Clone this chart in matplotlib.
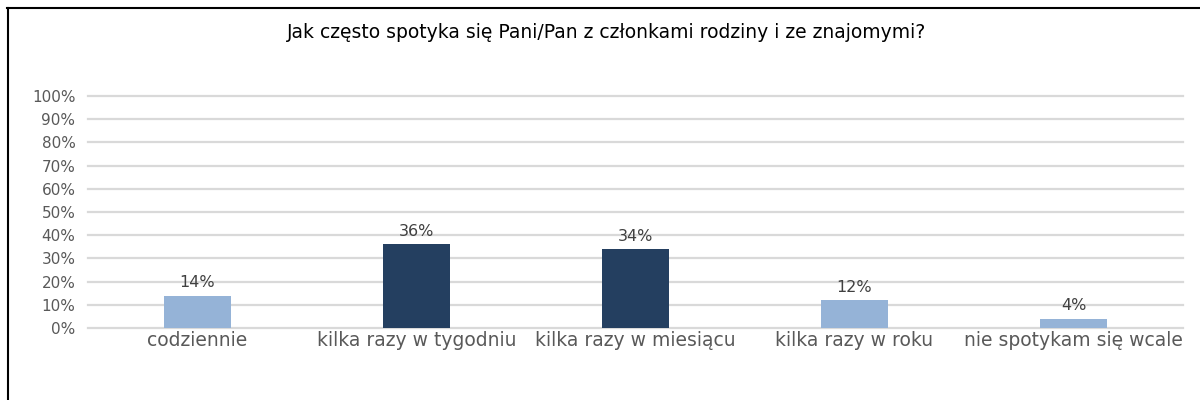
import matplotlib
matplotlib.use("Agg")
import matplotlib.pyplot as plt
from matplotlib.lines import Line2D

categories = ["codziennie", "kilka razy w tygodniu", "kilka razy w miesiącu",
              "kilka razy w roku", "nie spotykam się wcale"]
values = [0.14, 0.36, 0.34, 0.12, 0.04]
labels = ["14%", "36%", "34%", "12%", "4%"]
yticks = [0.0, 0.1, 0.2, 0.3, 0.4, 0.5, 0.6, 0.7, 0.8, 0.9, 1.0]
ytick_labels = ["0%", "10%", "20%", "30%", "40%", "50%", "60%", "70%", "80%", "90%", "100%"]
colors = ["#95B3D7", "#243F60", "#243F60", "#95B3D7", "#95B3D7"]
title = "Jak często spotyka się Pani/Pan z członkami rodziny i ze znajomymi?"

plt.rcParams['font.family'] = ['DejaVu Sans']

fig = plt.figure(figsize=(12, 4), dpi=100)
ax = fig.add_axes([88/1200, 1-328/400, (1183-88)/1200, (328-96)/400])

x = list(range(len(categories)))
ax.bar(x, values, width=0.31, color=colors, zorder=3)
ax.set_xlim(-0.5, len(categories)-0.5)
ax.set_ylim(0, 1.0)
ax.set_yticks(yticks)
ax.set_yticklabels(ytick_labels, fontsize=11, color="#595959")
ax.set_xticks(x)
ax.set_xticklabels(categories, fontsize=13.5, color="#595959")
ax.tick_params(axis='both', length=0)
ax.tick_params(axis='y', pad=9)
ax.tick_params(axis='x', pad=2)
ax.grid(axis='y', color="#D9D9D9", linewidth=1.6, zorder=0)
for gl in ax.get_ygridlines():
    gl.set_clip_on(False)
for s in ax.spines.values():
    s.set_visible(False)

for xi, v, lab in zip(x, values, labels):
    ax.annotate(lab, (xi, v), xytext=(0, 4), textcoords="offset points",
                ha="center", va="bottom", fontsize=11.5, color="#404040")

fig.text(607/1200, 1-32/400, title, ha="center", va="center", fontsize=13.5, color="#000000")

fig.add_artist(Line2D([7.5/1200, 7.5/1200], [0, 1-8/400], transform=fig.transFigure,
                      color="black", linewidth=1.5))
fig.add_artist(Line2D([7/1200, 1], [1-8/400, 1-8/400], transform=fig.transFigure,
                      color="black", linewidth=1.5))

fig.savefig("out.png", dpi=100, facecolor="white")
